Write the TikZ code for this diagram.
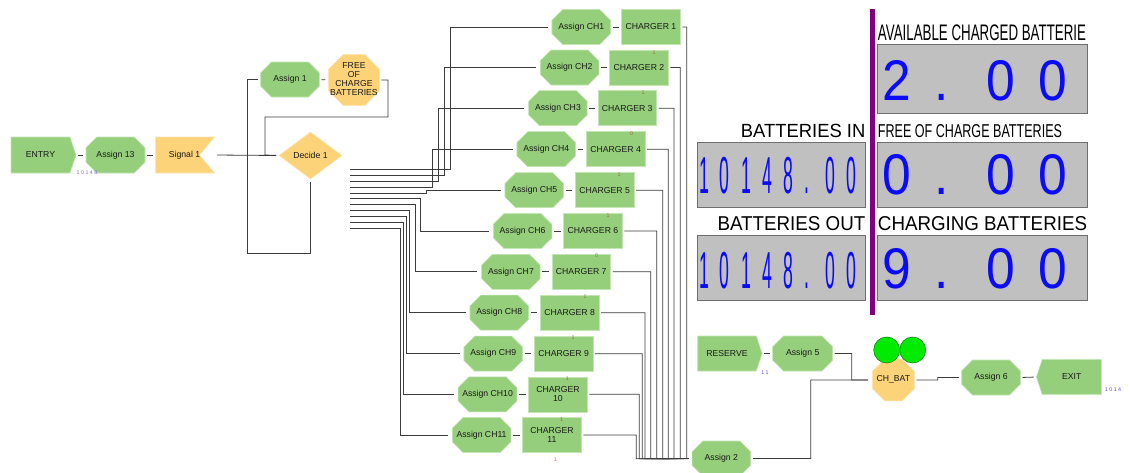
\documentclass[tikz,border=0pt]{standalone}
\usepackage{fontspec}
\setmainfont{Liberation Sans}
\usetikzlibrary{shapes.misc,shapes.geometric,shapes.symbols,calc}
\definecolor{grn}{RGB}{150,207,124}
\definecolor{grnb}{RGB}{196,230,180}
\definecolor{org}{RGB}{252,211,120}
\definecolor{orgb}{RGB}{253,228,175}
\definecolor{lcd}{RGB}{192,192,192}
\definecolor{lcdb}{RGB}{110,110,110}
\definecolor{dig}{RGB}{10,10,255}
\definecolor{wire}{RGB}{60,60,60}
\definecolor{cnt}{RGB}{150,105,75}
\definecolor{cntv}{RGB}{140,110,200}
\definecolor{vio}{RGB}{128,0,128}
\definecolor{lamp}{RGB}{0,235,0}
\newdimen\pxl \pxl=0.75pt
\newcommand{\modfont}{\fontsize{6.5}{6.9}\selectfont}
\newcommand{\lab}[3]{\resizebox{#1\pxl}{#2\pxl}{#3}}
\newcommand{\bigd}[1]{\scalebox{0.9}[1]{\fontsize{43}{43}\selectfont #1}}
\newcommand{\nard}[1]{\scalebox{0.34}[1]{\fontsize{39}{39}\selectfont #1}}
\newcommand{\zw}[1]{\makebox[0pt]{\begin{tabular}{@{}c@{}}#1\end{tabular}}}
\begin{document}
\begin{tikzpicture}[x=0.75pt,y=-0.75pt,
  mod/.style={font=\modfont, text=black!90, inner sep=0pt, align=center, line width=0.4pt},
  asg/.style={mod, chamfered rectangle, chamfered rectangle xsep=5pt, chamfered rectangle ysep=5pt, fill=grn, draw=grnb, minimum width=43.9pt, minimum height=26.25pt},
  chg/.style={mod, rectangle, fill=grn, draw=grnb, minimum width=43.9pt, minimum height=26.25pt},
  oct/.style={mod, regular polygon, regular polygon sides=8, fill=org, draw=orgb, minimum size=34pt},
  conn/.style={draw=wire, line width=0.6pt},
  gap/.style={shorten <=1.5pt, shorten >=2pt},
  lcdbox/.style={rectangle, fill=lcd, draw=lcdb, line width=0.75pt, inner sep=0pt},
  digit/.style={text=dig, inner sep=0pt, anchor=base},
  cntr/.style={font=\fontsize{4}{4}\selectfont, inner sep=0pt, text=cnt},
  lbl/.style={inner sep=0pt, anchor=base west},
  lampst/.style={circle, fill=lamp, draw=green!50!black, line width=0.4pt, minimum size=19.5pt, inner sep=0pt}]
\fill[white] (0,0) rectangle (1130,472);
\useasboundingbox (0,0) rectangle (1130,472);

% ---- left part
\node[mod, signal, signal to=east, signal pointer angle=143, fill=grn, draw=grnb, minimum width=48.75pt, minimum height=27pt] (entry) at (40.5,155) {ENTRY};
\node[asg, minimum width=44.25pt, minimum height=27pt] (a13) at (115.5,155) {Assign 13};
\node[mod, signal, signal to=nowhere, signal from=east, signal pointer angle=100, fill=org, draw=orgb, minimum width=44.25pt, minimum height=27pt] (sig) at (177.5,155) {\makebox[0pt]{\hspace*{14\pxl}Signal 1}};
\node[mod, diamond, fill=org, draw=orgb, aspect=1.34, minimum width=47.25pt, minimum height=35.25pt] (dec) at (310.5,155.5) {Decide 1};
\node[asg] (a1) at (290,79.5) {Assign 1};
\node[oct, font=\fontsize{6.5}{6.8}\selectfont] (free) at (354,80) {\zw{FREE\\OF\\CHARGE\\BATTERIES}};
\node[cntr, text=cntv] (c13) at (87,173) {1 0 1 4 8};

\draw[conn,gap] (entry.east) -- (a13.west);
\draw[conn,gap] (a13.east) -- (sig.west);
\draw[conn,gap] (sig.north east |- sig.east) -- (dec.west);
\draw[conn,gap] (a1.east) -- (free.west);
\draw[conn, shorten <=1pt, shorten >=2pt] (free.east) -| (388,117) -| (265,155) -- (dec.west);
\draw[conn, shorten <=2pt, shorten >=2pt] (dec.south) |- (247,253) |- (a1.west);

% ---- chargers
\coordinate (dT) at (350,169.3);
\foreach \i/\ax/\cx/\yy/\vx/\bx/\ct in {
  1/552/621.7/27/450.3/686.7/{CHARGER 1},
  2/540.3/609.7/67.5/444.7/680.3/{CHARGER 2},
  3/528.7/598/108.2/438.7/674/{CHARGER 3},
  4/517/586.3/149.2/432.7/668.3/{CHARGER 4},
  5/505/575.3/190.2/426.7/662.7/{CHARGER 5},
  6/493.3/563.7/231/420.7/656.7/{CHARGER 6},
  7/481.7/552/271.8/415.3/650.7/{CHARGER 7},
  8/470/540.3/312.7/409.3/645/{CHARGER 8},
  9/464/534.3/353.7/406.7/642.3/{CHARGER 9},
  10/458.3/528.7/394.3/403.3/639.3/{CHARGER\\10},
  11/452.3/522.7/435/400.7/636.3/{CHARGER\\11}}{
  \node[asg] (aCH\i) at (\ax+29.25,\yy) {Assign CH\i};
  \node[chg] (chg\i) at (\cx+29.25,\yy) {\ct};
  \draw[conn,gap] (aCH\i.east) -- (chg\i.west);
  \draw[conn, shorten >=3pt] ($(dT)+(0,{5.9*(\i-1)})$) -| (\vx,\yy) -- (aCH\i.west);
}
\node[asg] (a2) at (721.3,458.5) {Assign 2};
\foreach \i/\bx in {1/686.7,2/680.3,3/674,4/668.3,5/662.7,6/656.7,7/650.7,8/645,9/642.3,10/639.3,11/636.3}{
  \draw[conn, shorten <=1.5pt, shorten >=2.5pt] (chg\i.east) -| (\bx,458.7) -- (a2.west);
}
\foreach \x/\y/\t [count=\k] in {654/53/1,643/93/1,631.7/134/0,619/175/1,608/216/1,596.7/256/0,585/297/1,573/338/1,567.3/378.5/1,561.7/419.5/1}{
  \node[cntr] (cc\k) at (\x,\y) {\t};
}
\node[cntr, text=red!60!pink] (cc11b) at (555.3,460) {1};

% ---- lower right
\node[mod, signal, signal to=east, signal pointer angle=143, fill=grn, draw=grnb, minimum width=48.3pt, minimum height=26.25pt] (res) at (727,353.5) {RESERVE};
\node[asg, minimum width=45pt] (a5) at (802.7,353.5) {Assign 5};
\node[oct] (chbat) at (893.3,380) {\zw{CH\_BAT}};
\node[lampst] (lamp1) at (886.7,350) {};
\node[lampst] (lamp2) at (912.7,350) {};
\node[asg] (a6) at (991,377.5) {Assign 6};
\node[mod, signal, signal to=west, signal pointer angle=144, fill=grn, draw=grnb, minimum width=48.75pt, minimum height=26.25pt] (exit) at (1071.8,377) {EXIT};
\node[cntr, text=cntv!70!blue] (cres) at (765,372.5) {1 1};
\node[cntr, text=cntv!70!blue] (cexit) at (1113,390) {1 0 1 4};

\draw[conn,gap] (res.east) -- (a5.west);
\draw[conn, shorten <=1.5pt, shorten >=3pt] (a5.east) -| (851.7,380) -- (chbat.west);
\draw[conn, shorten <=1.5pt, shorten >=3pt] (a2.east) -| (810.7,380) -- (chbat.west);
\draw[conn,gap] (chbat.east) -- (937.7,380) |- (a6.west);
\draw[conn,gap] (a6.east) -- (exit.west);

% ---- displays
\fill[vio] (870,9) rectangle (875,315);
\node[lcdbox, minimum width=157.5pt, minimum height=51.75pt] (lcdA) at (982.3,78.8) {};
\node[lcdbox, minimum width=157.5pt, minimum height=48.45pt] (lcdF) at (982.3,175) {};
\node[lcdbox, minimum width=157.5pt, minimum height=48.75pt] (lcdC) at (982.3,267.5) {};
\node[lcdbox, minimum width=126.5pt, minimum height=48.45pt] (lcdI) at (781.65,175) {};
\node[lcdbox, minimum width=126.5pt, minimum height=48.75pt] (lcdO) at (781.65,267.5) {};

\node[lbl] (lblA) at (877.7,40.7) {\lab{208}{15.7}{AVAILABLE CHARGED BATTERIE}};
\node[lbl] (lblF) at (877.7,137.3) {\lab{184}{13}{FREE OF CHARGE BATTERIES}};
\node[lbl] (lblC) at (877.7,230.7) {\lab{209}{14}{CHARGING BATTERIES}};
\node[lbl] (lblI) at (740.7,137.3) {\lab{124.3}{13.3}{BATTERIES IN}};
\node[lbl] (lblO) at (717.3,230.7) {\lab{147.7}{14}{BATTERIES OUT}};

\foreach \y/\a in {100/2,194.5/0,288/9}{
  \node[digit] at (896.7,\y) {\bigd{\a}};
  \node[digit] at (942,\y) {\bigd{.}};
  \node[digit] at (1001,\y) {\bigd{0}};
  \node[digit] at (1052.7,\y) {\bigd{0}};
}
\foreach \y in {193.5,288}{
  \foreach \x/\d in {704/1,724.3/0,746.7/1,767.3/4,788.3/8,806.7/.,830.7/0,851.7/0}{
    \node[digit] at (\x,\y) {\nard{\d}};
  }
}
\end{tikzpicture}
\end{document}
